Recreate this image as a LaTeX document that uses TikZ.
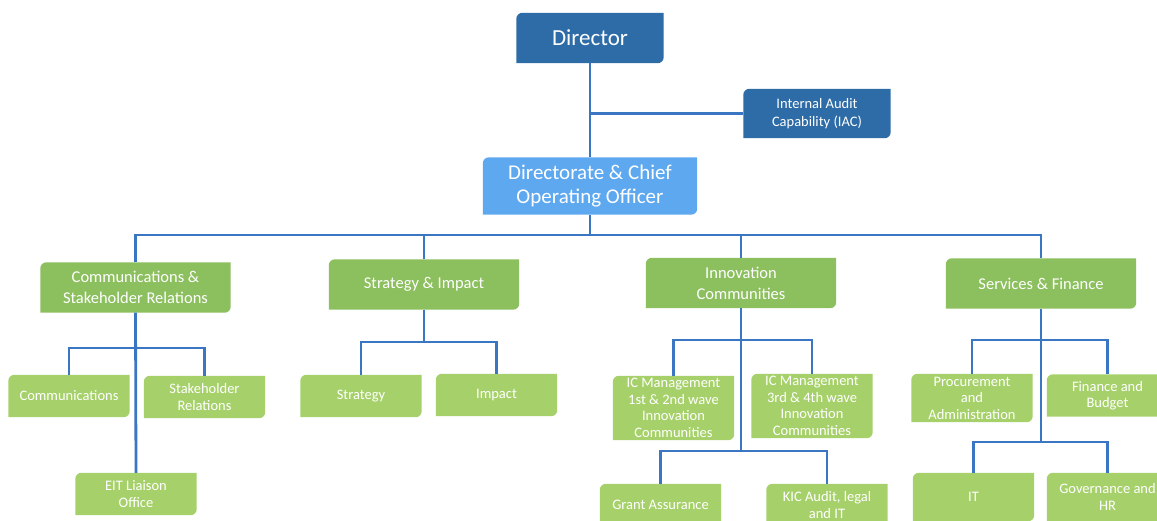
\documentclass[tikz,border=0pt]{standalone}
\usepackage{fontspec}
\setmainfont{Carlito}
\usetikzlibrary{backgrounds,calc}
\definecolor{dblue}{HTML}{2D6CA7}
\definecolor{lblue}{HTML}{5EA8F0}
\definecolor{gtwo}{HTML}{8CBF5E}
\definecolor{gthree}{HTML}{A6D16A}
\definecolor{lineblue}{HTML}{3A76C2}
\newcommand\tbfill[2]{\fill[#2] (#1.south west) -- ([yshift=-6pt]#1.north west) arc[start angle=180,end angle=90,radius=6pt] -- (#1.north east) -- ([yshift=6pt]#1.south east) arc[start angle=0,end angle=-90,radius=6pt] -- cycle;}
\begin{document}
\begin{tikzpicture}[x=1pt,y=1pt,
  box/.style={inner sep=0pt, text=white, align=center},
  topbox/.style={box, font=\fontsize{23}{26}\selectfont},
  coobox/.style={box, font=\fontsize{21}{24}\selectfont},
  iacbox/.style={box, font=\fontsize{14.5}{18.5}\selectfont},
  lvtwo/.style={box, minimum width=190pt, minimum height=50pt, font=\fontsize{16.5}{21}\selectfont},
  lvthree/.style={box, minimum width=121pt, minimum height=42pt, font=\fontsize{14.5}{16.5}\selectfont},
  conn/.style={draw=lineblue, line width=2.8pt}]
\useasboundingbox (0,0) rectangle (1157,-521);
% top
\node[topbox, minimum width=147pt, minimum height=50pt] (dir) at (590,-38) {Director};
\node[iacbox, minimum width=147pt, minimum height=49pt] (iac) at (817,-113.5) {Internal Audit\\Capability (IAC)};
\node[coobox, minimum width=214pt, minimum height=57pt] (coo) at (590,-186) {Directorate \& Chief\\Operating Officer};
% level 2
\node[lvtwo] (csr) at (135.5,-287.5) {Communications \&\\Stakeholder Relations};
\node[lvtwo] (si) at (424,-284.5) {Strategy \& Impact};
\node[lvtwo] (ic) at (741,-283) {Innovation\\Communities};
\node[lvtwo] (sf) at (1041,-283.5) {Services \& Finance};
% level 3
\node[lvthree] (comm) at (69,-396) {Communications};
\node[lvthree] (shr) at (204.5,-397) {Stakeholder\\Relations};
\node[lvthree] (eit) at (136,-494) {EIT Liaison\\Office};
\node[lvthree] (strat) at (361,-396) {Strategy};
\node[lvthree] (imp) at (496.5,-395) {Impact};
\node[lvthree, minimum height=64pt] (icma) at (673.5,-408) {IC Management\\1st \& 2nd wave\\Innovation\\Communities};
\node[lvthree, minimum height=64pt] (icmb) at (812,-406) {IC Management\\3rd \& 4th wave\\Innovation\\Communities};
\node[lvthree] (ga) at (660.5,-505) {Grant Assurance};
\node[lvthree] (kic) at (827,-505) {KIC Audit, legal\\and IT};
\node[lvthree, minimum height=48pt] (proc) at (972,-398) {Procurement\\and\\Administration};
\node[lvthree] (fb) at (1107.5,-395.5) {Finance and\\Budget};
\node[lvthree, minimum height=48pt] (it) at (973.5,-497) {IT};
\node[lvthree, minimum height=48pt] (gov) at (1107.5,-497) {Governance and\\HR};
% fills
\begin{scope}[on background layer]
\fill[white] (0,0) rectangle (1157,-521);
\tbfill{dir}{dblue}
\tbfill{iac}{dblue}
\tbfill{coo}{lblue}
\foreach \n in {csr,si,ic,sf}{\tbfill{\n}{gtwo}}
\foreach \n in {comm,shr,eit,strat,imp,icma,icmb,ga,kic,proc,fb,it,gov}{\tbfill{\n}{gthree}}
\end{scope}
% connectors
\coordinate (bus) at (590,-235);
\coordinate (csrb) at (135.5,-348);
\coordinate (sib) at (424,-342);
\coordinate (icba) at (741,-340);
\coordinate (icbb) at (741,-451);
\coordinate (sfba) at (1041,-340);
\coordinate (sfbb) at (1041,-442);
\path[conn] (dir.south) -- (coo.north);
\path[conn] (iac.west) -- (iac.west -| dir.south);
\path[conn] (coo.south) -- (bus);
\path[conn] (csr.north) |- (bus);
\path[conn] (sf.north) |- (bus);
\path[conn] (si.north) -- (si.north |- bus);
\path[conn] (ic.north) -- (ic.north |- bus);
\path[conn] (csr.south) -- (eit.north);
\path[conn] (comm.north) |- (csrb) -| (shr.north);
\path[conn] (si.south) -- (sib);
\path[conn] (strat.north) |- (sib) -| (imp.north);
\path[conn] (ic.south) -- (icbb);
\path[conn] (icma.north) |- (icba) -| (icmb.north);
\path[conn] (ga.north) |- (icbb) -| (kic.north);
\path[conn] (sf.south) -- (sfbb);
\path[conn] (proc.north) |- (sfba) -| (fb.north);
\path[conn] (it.north) |- (sfbb) -| (gov.north);
\end{tikzpicture}
\end{document}
